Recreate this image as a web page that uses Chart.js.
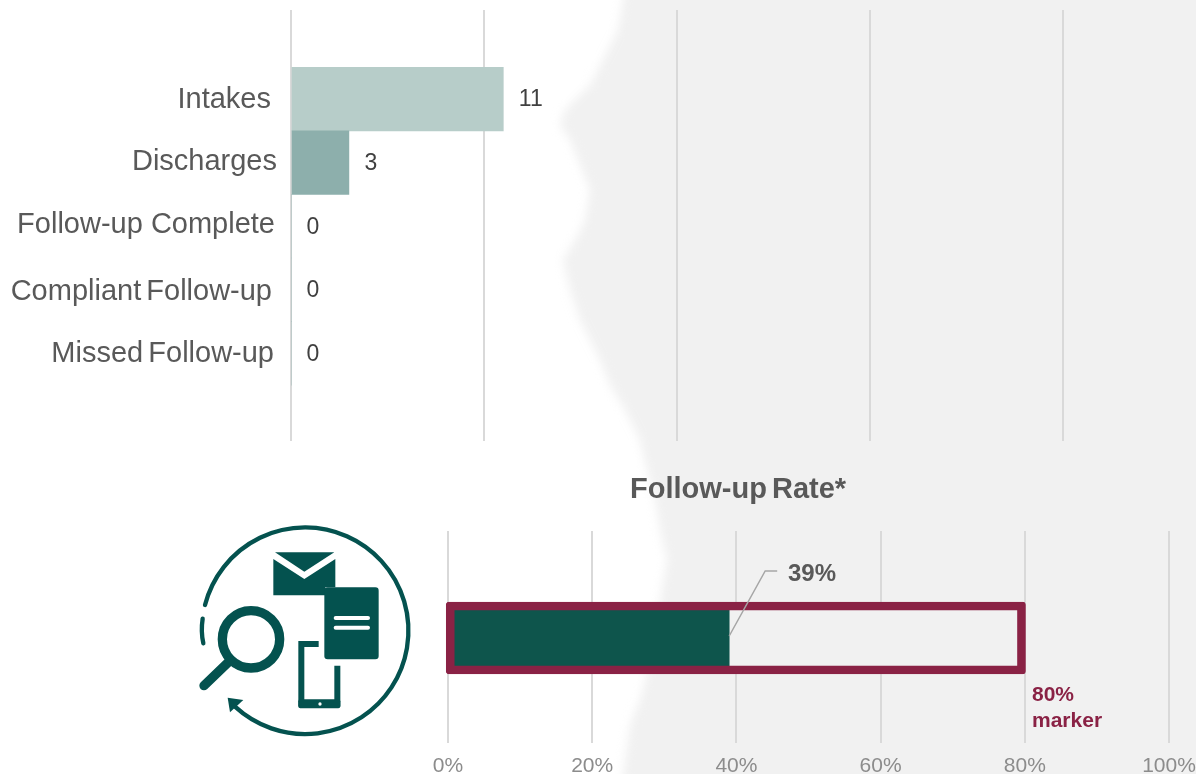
<!DOCTYPE html>
<html>
<head>
<meta charset="utf-8">
<title>Follow-up Rate</title>
<script src="https://cdn.jsdelivr.net/npm/chart.js@4"></script>
<style>
  html, body { margin: 0; padding: 0; background: #fff; overflow: hidden; width: 1196px; height: 774px; }
  #paper { position: absolute; left: 0; top: 0; width: 1196px; height: 774px; overflow: hidden; }
  /* scanned-looking grey panel on the right, edge is wobbly and soft */
  #shadeWrap { position: absolute; left: 0; top: -30px; width: 1240px; height: 834px; filter: blur(5px); }
  #shade {
    width: 100%; height: 100%; background: #f1f1f1;
    clip-path: polygon(628px 0, 623px 30px, 618px 60px, 603px 90px, 590px 115px, 565px 140px, 560px 155px, 570px 170px,
      580px 195px, 590px 220px, 585px 250px, 578px 265px, 563px 290px, 570px 320px, 580px 350px, 590px 370px,
      600px 390px, 610px 415px, 625px 440px, 640px 470px, 642px 480px, 650px 510px, 655px 530px, 660px 560px,
      667px 590px, 660px 630px, 655px 670px, 647px 704px, 640px 730px, 630px 755px, 625px 790px, 618px 834px,
      1240px 834px, 1240px 0);
  }
  canvas { position: absolute; left: 0; }
  #countChart { top: 0; }
  #rateChart { top: 470px; }
  #icon { position: absolute; left: 180px; top: 510px; }
</style>
</head>
<body>
<div id="paper">
  <div id="shadeWrap"><div id="shade"></div></div>
  <canvas id="countChart" width="1196" height="460"></canvas>
  <canvas id="rateChart" width="1240" height="323"></canvas>
  <svg id="icon" width="250" height="240" viewBox="0 0 750 720" fill="#04524f">
    <path d="M75 285 A310 310 0 1 1 165 590" fill="none" stroke="#04524f" stroke-width="13" stroke-linecap="round"/>
    <path d="M68 326 Q62 365 70 400" fill="none" stroke="#04524f" stroke-width="13" stroke-linecap="round"/>
    <polygon points="143,563 190,570 150,607"/>
    <circle cx="213" cy="388" r="86" fill="none" stroke="#04524f" stroke-width="28"/>
    <path d="M150 452 L72 527" stroke="#04524f" stroke-width="28" stroke-linecap="round"/>
    <polygon points="285,127 463,127 373,185"/>
    <path d="M280 147 L373 207 L466 147 V232 H436 V256 H280 Z"/>
    <rect x="433" y="232" width="163" height="216" rx="10"/>
    <rect x="461" y="318" width="109" height="12" rx="6" fill="#fff"/>
    <rect x="461" y="347" width="109" height="12" rx="6" fill="#fff"/>
    <path d="M416 402 H364 V580 H472 V467" fill="none" stroke="#04524f" stroke-width="18"/>
    <rect x="355" y="568" width="126" height="27" rx="6"/>
    <circle cx="420" cy="582" r="5" fill="#fff"/>
  </svg>
</div>

<script>
// Top chart data
const categories = ['Intakes', 'Discharges', 'Follow-up Complete', 'Compliant Follow-up', 'Missed Follow-up'];
const counts = [11, 3, 0, 0, 0];
const countColors = ['#b7cdc9', '#8dafac', '#8dafac', '#8dafac', '#8dafac'];
const countGridMax = 40;

// Bottom chart data
const rateTitle = 'Follow-up Rate*';
const rateValues = [39];
const markerValues = [80];
const markerLabel = ['80%', 'marker'];
const rateTicks = [0, 20, 40, 60, 80, 100];

// the category labels were hand placed in the original, so they wander a little
const labelRight = [271, 277, 275, 272, 274];
const labelNudgeY = [1, -1, -1, 2, 1];
const labelWordSpacing = ['0px', '0px', '0px', '-3px', '-3px'];

const FONT = '"Liberation Sans", Arial, sans-serif';
const GRID = '#d9d9d9';
const MAROON = '#8a2245';

const countLabels = {
    id: 'countLabels',
    afterDatasetsDraw(chart) {
        const { ctx, scales: { x, y } } = chart;
        ctx.save();
        ctx.textBaseline = 'middle';
        categories.forEach((name, i) => {
            ctx.textAlign = 'right';
            ctx.fillStyle = '#595959';
            ctx.font = '29px ' + FONT;
            ctx.wordSpacing = labelWordSpacing[i];
            ctx.fillText(name, labelRight[i], y.getPixelForValue(i) + labelNudgeY[i]);
            ctx.wordSpacing = '0px';
            ctx.textAlign = 'left';
            ctx.fillStyle = '#404040';
            ctx.font = '23px ' + FONT;
            ctx.fillText(String(counts[i]), x.getPixelForValue(counts[i]) + 15.5, y.getPixelForValue(i) + 1);
        });
        ctx.restore();
    }
};

new Chart(document.getElementById('countChart'), {
    type: 'bar',
    data: {
        datasets: [{
            data: counts.map((v, i) => ({ x: v, y: i })),
            backgroundColor: countColors,
            barThickness: 63.6
        }]
    },
    options: {
        indexAxis: 'y',
        responsive: false,
        animation: false,
        layout: { padding: { left: 291, right: 133, top: 10, bottom: 19 } },
        scales: {
            x: {
                type: 'linear',
                min: 0,
                max: countGridMax,
                ticks: { display: false, stepSize: 10 },
                border: { display: false },
                grid: { color: GRID, lineWidth: 2, drawTicks: false }
            },
            y: { type: 'linear', display: false, offset: false, reverse: true, min: -1.4, max: 5.377 }
        },
        plugins: { legend: { display: false }, tooltip: { enabled: false } }
    },
    plugins: [countLabels]
});

const rateLabels = {
    id: 'rateLabels',
    afterDatasetsDraw(chart) {
        const { ctx, scales: { x } } = chart;
        ctx.save();
        ctx.textBaseline = 'middle';

        ctx.fillStyle = '#595959';
        ctx.textAlign = 'left';
        ctx.font = 'bold 29px ' + FONT;
        ctx.wordSpacing = '-3px';
        ctx.fillText(rateTitle, 630, 20);
        ctx.wordSpacing = '0px';

        // leader line from the end of the bar up to the value
        const barEnd = x.getPixelForValue(rateValues[0]);
        ctx.strokeStyle = '#a6a6a6';
        ctx.lineWidth = 1.5;
        ctx.beginPath();
        ctx.moveTo(barEnd, 166);
        ctx.lineTo(barEnd + 36, 101);
        ctx.lineTo(barEnd + 48, 101);
        ctx.stroke();

        ctx.font = 'bold 24px ' + FONT;
        ctx.fillText(rateValues[0] + '%', 788, 104);

        ctx.fillStyle = MAROON;
        ctx.font = 'bold 21px ' + FONT;
        markerLabel.forEach((line, i) => ctx.fillText(line, 1032, 225 + i * 26));
        ctx.restore();
    }
};

new Chart(document.getElementById('rateChart'), {
    type: 'bar',
    data: {
        datasets: [
            // outline of the 80% box, drawn on top of everything
            {
                data: markerValues.map((v, i) => ({ x: [-0.25, v + 0.1], y: i })),
                backgroundColor: 'rgba(0,0,0,0)',
                borderColor: MAROON,
                borderWidth: 8,
                borderSkipped: false,
                borderRadius: 3,
                barThickness: 72,
                grouped: false,
                clip: 10,
                order: 1
            },
            {
                data: rateValues.map((v, i) => ({ x: v, y: i })),
                backgroundColor: '#0e554c',
                barThickness: 60,
                grouped: false,
                order: 2
            },
            // box interior hides the grid lines behind it
            {
                data: markerValues.map((v, i) => ({ x: v, y: i })),
                backgroundColor: '#f1f1f1',
                barThickness: 64,
                grouped: false,
                order: 3
            }
        ]
    },
    options: {
        indexAxis: 'y',
        responsive: false,
        animation: false,
        layout: { padding: { left: 448, right: 71, top: 61, bottom: 3 } },
        scales: {
            x: {
                type: 'linear',
                min: rateTicks[0],
                max: rateTicks[rateTicks.length - 1],
                afterBuildTicks: (axis) => { axis.ticks = rateTicks.map((v) => ({ value: v })); },
                ticks: {
                    color: '#8c8c8c',
                    font: { family: FONT, size: 21 },
                    padding: 11,
                    maxRotation: 0,
                    autoSkip: false,
                    callback: (value) => value + '%'
                },
                border: { display: false },
                grid: { color: GRID, lineWidth: 2, drawTicks: false }
            },
            y: { type: 'linear', display: false, offset: false, reverse: true, min: -1.01, max: 0.99 }
        },
        plugins: { legend: { display: false }, tooltip: { enabled: false } }
    },
    plugins: [rateLabels]
});
</script>
</body>
</html>
